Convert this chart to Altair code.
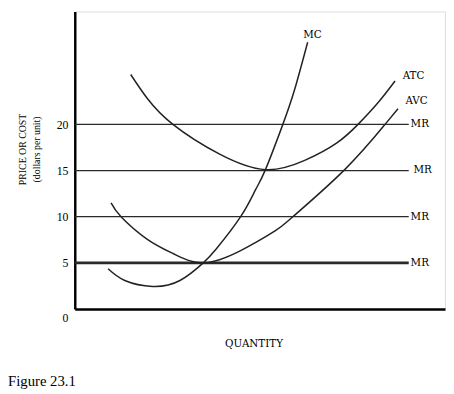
import altair as alt
import pandas as pd

# Curves (quantity in arbitrary units 0-100, price in dollars)
mc_q = [9.0, 13.5, 21.0, 28.4, 34.7, 38.2, 44.8, 48.8, 51.5, 56.2, 59.4, 62.9]
mc_p = [4.36, 3.09, 2.45, 3.09, 5.0, 6.5, 10.0, 12.9, 15.1, 20.0, 23.8, 28.9]

avc_q = [9.8, 12.5, 19.6, 26.8, 34.7, 44.8, 54.1, 58.9, 72.9, 83.8, 87.3]
avc_p = [11.5, 10.0, 7.55, 5.96, 5.0, 6.33, 8.46, 10.0, 15.1, 20.0, 21.7]

atc_q = [15.1, 19.6, 26.5, 39.0, 51.5, 62.1, 70.8, 76.5, 82.0, 86.5]
atc_p = [25.4, 22.8, 20.0, 16.8, 15.1, 16.1, 18.0, 20.0, 22.4, 24.7]

mr_levels = [20, 15, 10, 5]
mr_end_q = 90.2
mr_label_q = [90.7, 91.5, 90.7, 90.7]

curve_labels = ["MC", "ATC", "AVC"]
curve_label_q = [64.2, 91.5, 92.3]
curve_label_p = [29.7, 25.2, 22.55]

y_ticks = [0, 5, 10, 15, 20]

rows = []
for name, qs, ps in [("MC", mc_q, mc_p), ("AVC", avc_q, avc_p), ("ATC", atc_q, atc_p)]:
    for i, (q, p) in enumerate(zip(qs, ps)):
        rows.append({"curve": name, "q": q, "p": p, "order": i})
curves = pd.DataFrame(rows)

mr = pd.DataFrame({"p": mr_levels, "q0": [0] * 4, "q1": [mr_end_q] * 4,
                   "lq": mr_label_q, "lab": ["MR"] * 4,
                   "w": [1.3 if v != 5 else 2.6 for v in mr_levels]})
clabs = pd.DataFrame({"lab": curve_labels, "q": curve_label_q, "p": curve_label_p})

xs = alt.Scale(domain=[0, 100], nice=False, zero=False)
ys = alt.Scale(domain=[0, 32.23], nice=False, zero=False)

base_x = alt.X("q:Q", scale=xs, axis=alt.Axis(
    title="QUANTITY", labels=False, ticks=False, grid=False,
    domainColor="black", domainWidth=2.5,
    titleFont="DejaVu Serif", titleFontSize=10.5, titleFontWeight="normal",
    titleColor="black", titleX=182, titleY=35, titleBaseline="middle",
    titleAlign="center"))
base_y = alt.Y("p:Q", scale=ys, axis=alt.Axis(
    title=["PRICE OR COST", "(dollars per unit)"], values=y_ticks,
    ticks=False, grid=False, domainColor="black", domainWidth=2.5,
    labelFont="Liberation Serif", labelFontSize=12, labelColor="black",
    labelPadding=7,
    labelOffset={"condition": {"test": "datum.value === 0", "value": 9}, "value": 0},
    titleFont="Liberation Serif", titleFontSize=10, titleFontWeight="normal",
    titleColor="black", titleX=-58, titleY=140, titleBaseline="top",
    titleAlign="center", titleLineHeight=14))

lines = alt.Chart(curves).mark_line(
    interpolate="natural", color="#222222", strokeWidth=1.5
).encode(x=base_x, y=base_y, detail="curve:N", order="order:Q")

mr_rules = alt.Chart(mr).mark_rule(color="#2a2a2a").encode(
    x=alt.X("q0:Q", scale=xs), x2="q1:Q", y=alt.Y("p:Q", scale=ys),
    strokeWidth=alt.StrokeWidth("w:Q", scale=None))

mr_text = alt.Chart(mr).mark_text(
    align="left", baseline="middle", font="DejaVu Serif", fontSize=10.5, color="black"
).encode(x=alt.X("lq:Q", scale=xs), y=alt.Y("p:Q", scale=ys), text="lab:N")

c_text = alt.Chart(clabs).mark_text(
    align="center", baseline="middle", font="DejaVu Serif", fontSize=10.5, color="black"
).encode(x=alt.X("q:Q", scale=xs), y=alt.Y("p:Q", scale=ys), text="lab:N")

chart = alt.layer(mr_rules, lines, mr_text, c_text).properties(
    width=377, height=303,
    autosize=alt.AutoSizeParams(type="none"),
    padding={"left": 68, "top": 0, "right": 1, "bottom": 83},
    title=alt.TitleParams("Figure 23.1", orient="bottom", anchor="start",
                          frame="group", dx=-68, offset=26,
                          font="Liberation Serif", fontSize=15,
                          fontWeight="normal", color="black"),
).configure_view(stroke=None).configure(background="white")

chart.save("out.html", embed_options={"renderer": "svg", "actions": False})
